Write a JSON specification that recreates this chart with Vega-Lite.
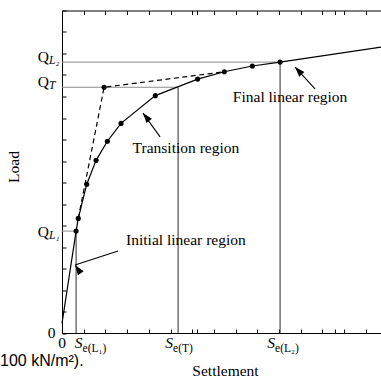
{
  "$schema": "https://vega.github.io/schema/vega-lite/v6.json",
  "width": 319,
  "height": 322.5,
  "autosize": {"type": "none"},
  "padding": {"left": 62, "top": 10.5, "right": 0, "bottom": 45.5},
  "background": "white",
  "resolve": {"axis": {"y": "independent"}},
  "config": {
    "view": {"stroke": null},
    "axis": {
      "domainColor": "#000", "domainWidth": 1, "tickColor": "#000", "tickWidth": 1, "tickSize": -4,
      "labels": false, "grid": false,
      "titleFont": "Liberation Serif", "titleFontSize": 15.5, "titleFontWeight": "normal", "titleColor": "#000"
    }
  },
  "datasets": {
    "guides": [
      {"kind": "h", "x": 0, "y": 12.6, "x2": 10.05, "y2": 12.6},
      {"kind": "h", "x": 0, "y": 11.43, "x2": 5.35, "y2": 11.43},
      {"kind": "h", "x": 0, "y": 4.74, "x2": 0.65, "y2": 4.74},
      {"kind": "v", "x": 0.65, "y": 0, "x2": 0.65, "y2": 4.74},
      {"kind": "v", "x": 5.35, "y": 0, "x2": 5.35, "y2": 11.43},
      {"kind": "v", "x": 10.05, "y": 0, "x2": 10.05, "y2": 12.6}
    ],
    "curve": [
      {"s": 0, "q": 0.45, "type": "extension"},
      {"s": 0.65, "q": 4.74, "type": "measured"},
      {"s": 0.75, "q": 5.33, "type": "measured"},
      {"s": 1.14, "q": 6.92, "type": "measured"},
      {"s": 1.57, "q": 8.03, "type": "measured"},
      {"s": 2.09, "q": 8.92, "type": "measured"},
      {"s": 2.72, "q": 9.75, "type": "measured"},
      {"s": 4.30, "q": 11.04, "type": "measured"},
      {"s": 6.25, "q": 11.81, "type": "measured"},
      {"s": 7.48, "q": 12.15, "type": "measured"},
      {"s": 8.77, "q": 12.42, "type": "measured"},
      {"s": 10.05, "q": 12.6, "type": "measured"},
      {"s": 14.7, "q": 13.3, "type": "extension"}
    ],
    "construction": [
      {"s": 0.75, "q": 5.33, "type": "start"},
      {"s": 1.94, "q": 11.43, "type": "vertex"},
      {"s": 7.48, "q": 12.15, "type": "end"}
    ],
    "arrows": [
      {"label": "Final", "x": 11.66, "y": 11.35, "x2": 10.74, "y2": 12.37},
      {"label": "Transition", "x": 4.52, "y": 9.12, "x2": 3.73, "y2": 10.23},
      {"label": "Initial", "x": 2.58, "y": 3.81, "x2": 0.60, "y2": 3.16}
    ],
    "notes": [
      {"text": "Final linear region", "s": 10.51, "q": 10.74},
      {"text": "Transition region", "s": 5.71, "q": 8.37},
      {"text": "Initial linear region", "s": 5.71, "q": 4.09}
    ],
    "qlabels": [
      {"sub": "L₂", "q": 12.84},
      {"sub": "T", "q": 11.67},
      {"sub": "L₁", "q": 4.70}
    ],
    "slabels": [
      {"sub": "e(L₁)", "s": 1.18},
      {"sub": "e(T)", "s": 5.35},
      {"sub": "e(L₂)", "s": 10.05}
    ],
    "caption": [
      {"text": "100 kN/m²).", "s": -2.857, "q": -1.53}
    ],
    "origin": [
      {"s": 0, "q": 0}
    ]
  },
  "layer": [
    {
      "data": {"name": "guides"},
      "mark": {"type": "rule", "strokeWidth": 1},
      "encoding": {
        "x": {"field": "x", "type": "quantitative", "scale": {"domain": [0, 14.7], "nice": false, "zero": false},
          "axis": {"orient": "bottom", "values": [0, 1, 2, 3, 4, 5, 6, 6.22, 7, 8, 9, 10, 11, 12, 12.58, 13, 14],
            "title": "Settlement", "titleX": 163, "titleY": 37, "titleBaseline": "middle", "titleAlign": "center", "titleAngle": 0}},
        "x2": {"field": "x2"},
        "y": {"field": "y", "type": "quantitative", "scale": {"domain": [0, 15], "nice": false, "zero": false},
          "axis": {"orient": "left", "values": [0, 1, 2, 3, 4, 5, 6, 7, 8, 9, 10, 11, 12, 13, 14, 15],
            "title": "Load", "titleX": -49, "titleY": 156, "titleAngle": -90, "titleBaseline": "middle", "titleAlign": "center"}},
        "y2": {"field": "y2"},
        "color": {"field": "kind", "type": "nominal", "scale": {"domain": ["h", "v"], "range": ["#8c8c8c", "#2e2e2e"]}, "legend": null}
      }
    },
    {
      "data": {"name": "arrows"},
      "mark": {"type": "rule", "strokeWidth": 1.1, "color": "#000"},
      "encoding": {
        "x": {"field": "x", "type": "quantitative", "scale": {"domain": [0, 14.7], "nice": false, "zero": false},
          "axis": {"orient": "top", "values": [0, 1, 2, 3, 4, 5, 6, 6.22, 7, 8, 9, 10, 11, 12, 12.58, 13, 14], "title": null}},
        "x2": {"field": "x2"},
        "y": {"field": "y", "type": "quantitative", "scale": {"domain": [0, 15], "nice": false, "zero": false}, "axis": null},
        "y2": {"field": "y2"}
      }
    },
    {
      "data": {"name": "arrows"},
      "mark": {"type": "point", "shape": "M0,0L0.7,2L-0.7,2Z", "filled": true, "color": "#000", "opacity": 1, "size": 100, "strokeWidth": 0},
      "encoding": {
        "x": {"field": "x2", "type": "quantitative", "scale": {"domain": [0, 14.7], "nice": false, "zero": false}, "axis": null},
        "y": {"field": "y2", "type": "quantitative", "scale": {"domain": [0, 15], "nice": false, "zero": false}, "axis": null},
        "angle": {"field": "label", "type": "nominal", "scale": {"domain": ["Final", "Transition", "Initial"], "range": [317.7, 324.7, 252]}, "legend": null}
      }
    },
    {
      "data": {"name": "construction"},
      "mark": {"type": "line", "color": "#000", "strokeWidth": 1.2, "strokeDash": [5, 3.5]},
      "encoding": {
        "x": {"field": "s", "type": "quantitative", "scale": {"domain": [0, 14.7], "nice": false, "zero": false}, "axis": null},
        "y": {"field": "q", "type": "quantitative", "scale": {"domain": [0, 15], "nice": false, "zero": false}, "axis": null}
      }
    },
    {
      "data": {"name": "curve"},
      "mark": {"type": "line", "color": "#000", "strokeWidth": 1.2},
      "encoding": {
        "x": {"field": "s", "type": "quantitative", "scale": {"domain": [0, 14.7], "nice": false, "zero": false}, "axis": null},
        "y": {"field": "q", "type": "quantitative", "scale": {"domain": [0, 15], "nice": false, "zero": false}, "axis": null}
      }
    },
    {
      "data": {"name": "curve"},
      "transform": [{"filter": "datum.type === 'measured'"}],
      "mark": {"type": "circle", "color": "#000", "opacity": 1, "size": 26},
      "encoding": {
        "x": {"field": "s", "type": "quantitative", "scale": {"domain": [0, 14.7], "nice": false, "zero": false}, "axis": null},
        "y": {"field": "q", "type": "quantitative", "scale": {"domain": [0, 15], "nice": false, "zero": false}, "axis": null}
      }
    },
    {
      "data": {"name": "construction"},
      "transform": [{"filter": "datum.type === 'vertex'"}],
      "mark": {"type": "circle", "color": "#000", "opacity": 1, "size": 26},
      "encoding": {
        "x": {"field": "s", "type": "quantitative", "scale": {"domain": [0, 14.7], "nice": false, "zero": false}, "axis": null},
        "y": {"field": "q", "type": "quantitative", "scale": {"domain": [0, 15], "nice": false, "zero": false}, "axis": null}
      }
    },
    {
      "data": {"name": "notes"},
      "mark": {"type": "text", "font": "Liberation Serif", "fontSize": 15.5, "color": "#000", "align": "center", "baseline": "alphabetic"},
      "encoding": {
        "x": {"field": "s", "type": "quantitative", "scale": {"domain": [0, 14.7], "nice": false, "zero": false}, "axis": null},
        "y": {"field": "q", "type": "quantitative", "scale": {"domain": [0, 15], "nice": false, "zero": false}, "axis": null},
        "text": {"field": "text"}
      }
    },
    {
      "data": {"name": "qlabels"},
      "mark": {"type": "text", "text": "Q", "font": "Liberation Serif", "fontSize": 15.5, "color": "#000", "align": "right", "baseline": "middle", "dx": -13},
      "encoding": {
        "x": {"datum": 0, "type": "quantitative", "scale": {"domain": [0, 14.7], "nice": false, "zero": false}, "axis": null},
        "y": {"field": "q", "type": "quantitative", "scale": {"domain": [0, 15], "nice": false, "zero": false}, "axis": null}
      }
    },
    {
      "data": {"name": "qlabels"},
      "mark": {"type": "text", "font": "Liberation Serif", "fontSize": 11.5, "fontStyle": "italic", "color": "#000", "align": "left", "baseline": "middle", "dx": -13, "dy": 4},
      "encoding": {
        "x": {"datum": 0, "type": "quantitative", "scale": {"domain": [0, 14.7], "nice": false, "zero": false}, "axis": null},
        "y": {"field": "q", "type": "quantitative", "scale": {"domain": [0, 15], "nice": false, "zero": false}, "axis": null},
        "text": {"field": "sub"}
      }
    },
    {
      "data": {"name": "slabels"},
      "mark": {"type": "text", "text": "S", "font": "Liberation Serif", "fontSize": 15.5, "fontStyle": "italic", "color": "#000", "align": "right", "baseline": "alphabetic", "dx": -5, "dy": 15},
      "encoding": {
        "x": {"field": "s", "type": "quantitative", "scale": {"domain": [0, 14.7], "nice": false, "zero": false}, "axis": null},
        "y": {"datum": 0, "type": "quantitative", "scale": {"domain": [0, 15], "nice": false, "zero": false}, "axis": null}
      }
    },
    {
      "data": {"name": "slabels"},
      "mark": {"type": "text", "font": "Liberation Serif", "fontSize": 11.5, "color": "#000", "align": "left", "baseline": "alphabetic", "dx": -5, "dy": 19},
      "encoding": {
        "x": {"field": "s", "type": "quantitative", "scale": {"domain": [0, 14.7], "nice": false, "zero": false}, "axis": null},
        "y": {"datum": 0, "type": "quantitative", "scale": {"domain": [0, 15], "nice": false, "zero": false}, "axis": null},
        "text": {"field": "sub"}
      }
    },
    {
      "data": {"name": "origin"},
      "mark": {"type": "text", "text": "0", "font": "Liberation Serif", "fontSize": 15.5, "color": "#000", "align": "right", "baseline": "alphabetic", "dx": -6.5, "dy": 5},
      "encoding": {
        "x": {"field": "s", "type": "quantitative", "scale": {"domain": [0, 14.7], "nice": false, "zero": false}, "axis": null},
        "y": {"field": "q", "type": "quantitative", "scale": {"domain": [0, 15], "nice": false, "zero": false}, "axis": null}
      }
    },
    {
      "data": {"name": "origin"},
      "mark": {"type": "text", "text": "0", "font": "Liberation Serif", "fontSize": 15.5, "color": "#000", "align": "center", "baseline": "alphabetic", "dy": 15},
      "encoding": {
        "x": {"field": "s", "type": "quantitative", "scale": {"domain": [0, 14.7], "nice": false, "zero": false}, "axis": null},
        "y": {"field": "q", "type": "quantitative", "scale": {"domain": [0, 15], "nice": false, "zero": false}, "axis": null}
      }
    },
    {
      "data": {"name": "caption"},
      "mark": {"type": "text", "font": "Liberation Sans", "fontSize": 16, "color": "#000", "align": "left", "baseline": "alphabetic"},
      "encoding": {
        "x": {"field": "s", "type": "quantitative", "scale": {"domain": [0, 14.7], "nice": false, "zero": false}, "axis": null},
        "y": {"field": "q", "type": "quantitative", "scale": {"domain": [0, 15], "nice": false, "zero": false}, "axis": null},
        "text": {"field": "text"}
      }
    }
  ]
}
